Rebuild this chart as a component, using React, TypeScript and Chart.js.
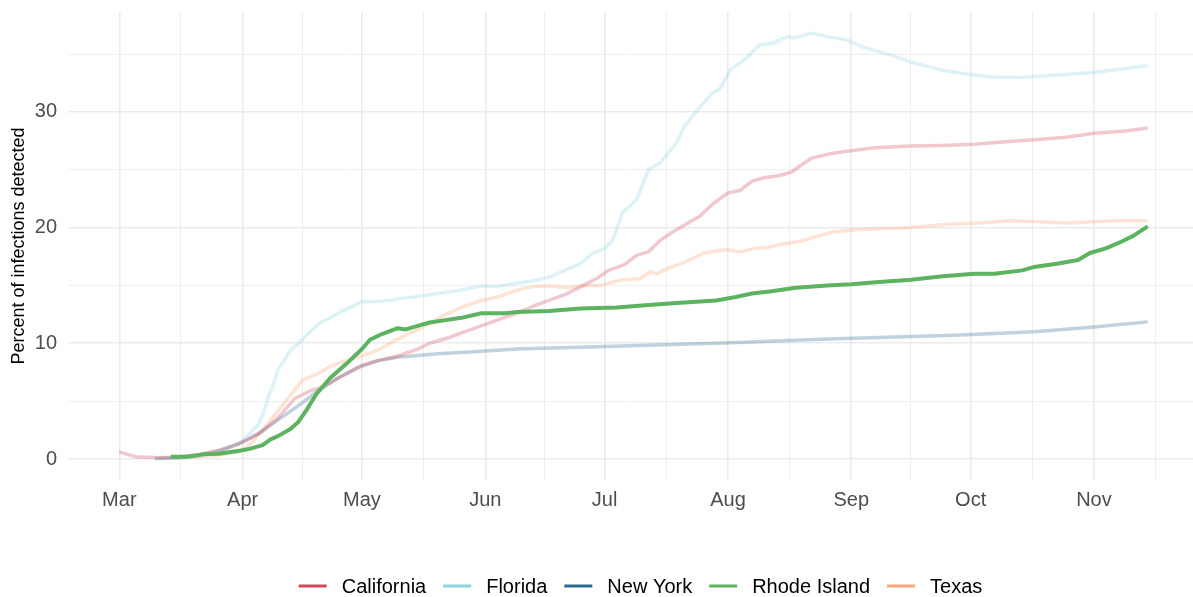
import React, { useEffect, useRef } from "react";
import { Chart, registerables } from "chart.js";

Chart.register(...registerables);

// ---------- data (x = days since 1 March 2020) ----------
const seriesNames = ["California", "Florida", "New York", "Rhode Island", "Texas"];
const seriesColors = ["#D1495B", "#8DD3E3", "#2E6B8E", "#5CB360", "#FFA477"];
const highlightedSeries = "Rhode Island";

const monthTickDays = [0, 31, 61, 92, 122, 153, 184, 214, 245];
const monthTickLabels = ["Mar", "Apr", "May", "Jun", "Jul", "Aug", "Sep", "Oct", "Nov"];
const minorXTickDays = [15.5, 46, 76.5, 107, 137.5, 168.5, 199, 229.5, 260.5];
const yMajorTicks = [0, 10, 20, 30];
const yMinorTicks = [5, 15, 25, 35];

const caDays = [0, 2, 4, 10, 15, 20, 25, 30, 33, 36, 40, 44, 48, 51, 55, 61, 65, 70, 75, 78, 83, 86, 91, 95, 100, 104, 108, 112, 116, 120, 123, 127, 130, 133, 136, 139, 142, 146, 149, 153, 156, 159, 162, 166, 169, 171, 174, 179, 183, 190, 199, 207, 215, 222, 230, 238, 245, 253, 258.5];
const caValues = [0.6, 0.4, 0.2, 0.1, 0.2, 0.4, 0.75, 1.3, 1.8, 2.4, 3.6, 5.2, 5.9, 6.2, 7.0, 8.1, 8.5, 8.9, 9.5, 10.0, 10.5, 10.9, 11.5, 12.0, 12.6, 13.2, 13.7, 14.2, 14.9, 15.6, 16.3, 16.8, 17.6, 17.9, 18.9, 19.6, 20.2, 21.0, 22.0, 23.0, 23.2, 24.0, 24.3, 24.5, 24.8, 25.3, 26.0, 26.4, 26.6, 26.9, 27.05, 27.1, 27.2, 27.4, 27.6, 27.8, 28.15, 28.35, 28.6];

const flDays = [9, 15, 20, 25, 28, 31, 33, 35, 36.5, 37.5, 38.5, 40, 42, 43, 46, 48.5, 51, 53, 55.5, 58, 61, 64, 68, 71, 74, 78, 82, 86, 91, 95, 100, 104, 108, 112, 116, 119, 122, 124, 126.5, 130, 133, 136, 140, 142, 144, 146, 149, 151, 153.5, 157.5, 161, 164, 168, 170, 174, 178, 183, 187, 191, 195, 199, 207, 214, 220, 227, 232, 237, 245, 252, 258.5];
const flValues = [0.05, 0.1, 0.25, 0.6, 1.0, 1.6, 2.3, 3.0, 4.2, 5.5, 6.2, 7.8, 8.8, 9.4, 10.3, 11.2, 11.9, 12.2, 12.7, 13.1, 13.6, 13.6, 13.7, 13.9, 14.0, 14.2, 14.4, 14.6, 14.95, 14.9, 15.2, 15.4, 15.7, 16.3, 16.9, 17.8, 18.2, 18.9, 21.3, 22.4, 25.0, 25.6, 27.3, 28.7, 29.6, 30.4, 31.6, 32.0, 33.6, 34.6, 35.8, 35.9, 36.5, 36.4, 36.8, 36.5, 36.2, 35.6, 35.2, 34.8, 34.3, 33.6, 33.2, 33.0, 33.0, 33.1, 33.2, 33.4, 33.7, 34.0];

const nyDays = [9, 15, 20, 25, 30, 35, 40, 45, 50, 55, 60, 65, 70, 80, 90, 100, 120, 150, 180, 210, 230, 245, 258.5];
const nyValues = [0.05, 0.1, 0.3, 0.7, 1.3, 2.2, 3.4, 4.6, 5.9, 7.0, 7.9, 8.5, 8.8, 9.1, 9.3, 9.5, 9.7, 10.0, 10.4, 10.7, 11.0, 11.4, 11.85];

const riDays = [13, 17, 21, 25, 28, 31, 33, 36, 38, 40, 43, 45, 47, 49.5, 53, 57, 61, 63, 66, 70, 72, 75, 78, 82, 86, 91, 97, 100, 108, 116, 125, 133, 141, 150, 155, 159, 164, 170, 178, 184, 191, 199, 207, 215, 220, 227, 230, 236, 241, 244, 248, 252, 255, 258.5];
const riValues = [0.2, 0.2, 0.4, 0.45, 0.6, 0.75, 0.9, 1.2, 1.7, 2.0, 2.6, 3.2, 4.2, 5.6, 7.0, 8.2, 9.5, 10.3, 10.8, 11.3, 11.2, 11.5, 11.8, 12.0, 12.2, 12.6, 12.6, 12.7, 12.8, 13.0, 13.1, 13.3, 13.5, 13.7, 14.0, 14.3, 14.5, 14.8, 15.0, 15.1, 15.3, 15.5, 15.8, 16.0, 16.0, 16.3, 16.6, 16.9, 17.2, 17.8, 18.2, 18.8, 19.3, 20.1];

const txDays = [10, 15, 20, 25, 30, 33, 36, 40, 43, 46, 50, 53, 57, 61, 65, 69.5, 74, 78, 82, 86, 91, 95, 100, 104, 108, 113, 117, 121, 124, 127, 131, 133.5, 135, 138, 142, 147, 152.5, 156, 160, 163, 167, 171, 175, 179, 184, 191, 199, 209, 216, 224, 231, 238, 245, 251, 258.5];
const txValues = [0.05, 0.1, 0.2, 0.35, 0.6, 1.3, 2.5, 4.2, 5.5, 6.8, 7.4, 8.0, 8.5, 8.9, 9.4, 10.3, 11.0, 11.7, 12.5, 13.1, 13.7, 14.0, 14.6, 14.9, 14.95, 14.8, 15.0, 15.0, 15.3, 15.5, 15.6, 16.2, 16.0, 16.5, 17.0, 17.8, 18.1, 17.9, 18.2, 18.3, 18.6, 18.8, 19.2, 19.6, 19.8, 19.9, 20.0, 20.3, 20.4, 20.6, 20.5, 20.4, 20.5, 20.6, 20.6];

const seriesDays = [caDays, flDays, nyDays, riDays, txDays];
const seriesValues = [caValues, flValues, nyValues, riValues, txValues];

const FONT = '"Liberation Sans", Arial, Helvetica, sans-serif';

function withAlpha(hex: string, a: number): string {
  const n = parseInt(hex.slice(1), 16);
  return `rgba(${(n >> 16) & 255},${(n >> 8) & 255},${n & 255},${a})`;
}

const customLegend = {
  id: "customLegend",
  afterDraw(chart: any) {
    const ctx = chart.ctx as CanvasRenderingContext2D;
    ctx.save();
    ctx.font = `20px ${FONT}`;
    const keyW = 28;
    const gapKeyText = 15;
    const gapItems = 17;
    const widths = seriesNames.map((n) => ctx.measureText(n).width);
    let total = 0;
    widths.forEach((w, i) => {
      total += keyW + gapKeyText + w + (i < widths.length - 1 ? gapItems : 0);
    });
    let x = 640.5 - total / 2;
    const y = 586;
    seriesNames.forEach((name, i) => {
      ctx.strokeStyle = seriesColors[i];
      ctx.lineWidth = 3;
      ctx.beginPath();
      ctx.moveTo(x, y);
      ctx.lineTo(x + keyW, y);
      ctx.stroke();
      x += keyW + gapKeyText;
      ctx.fillStyle = "#000000";
      ctx.textBaseline = "middle";
      ctx.textAlign = "left";
      ctx.fillText(name, x, y + 1);
      x += widths[i] + gapItems;
    });
    ctx.restore();
  },
};

export default function App() {
  const canvasRef = useRef<HTMLCanvasElement | null>(null);

  useEffect(() => {
    if (!canvasRef.current) return;
    const datasets = seriesNames.map((name, i) => {
      const hl = name === highlightedSeries;
      return {
        label: name,
        data: seriesDays[i].map((d, j) => ({ x: d, y: seriesValues[i][j] })),
        borderColor: hl ? seriesColors[i] : withAlpha(seriesColors[i], 0.3),
        backgroundColor: seriesColors[i],
        borderWidth: hl ? 4 : 3.5,
        pointRadius: 0,
        pointHoverRadius: 0,
        tension: 0,
        fill: false,
        borderJoinStyle: "round" as const,
        order: hl ? -1 : i,
      };
    });

    const chart = new Chart(canvasRef.current, {
      type: "line",
      data: { datasets },
      options: {
        animation: false,
        responsive: false,
        maintainAspectRatio: false,
        layout: { padding: { top: 12, left: 0, right: 0, bottom: 0 } },
        plugins: {
          legend: { display: false },
          tooltip: { enabled: false },
        },
        scales: {
          x: {
            type: "linear",
            min: -12.9,
            max: 269.9,
            afterBuildTicks: (s: any) => {
              s.ticks = [...monthTickDays, ...minorXTickDays]
                .sort((a, b) => a - b)
                .map((v) => ({ value: v }));
            },
            afterFit: (s: any) => {
              s.height = 117;
              s.paddingLeft = 0;
              s.paddingRight = 0;
            },
            ticks: {
              autoSkip: false,
              maxRotation: 0,
              color: "#4D4D4D",
              font: { family: FONT, size: 20 },
              padding: 8,
              callback: (v: any) => {
                const idx = monthTickDays.indexOf(Number(v));
                return idx >= 0 ? monthTickLabels[idx] : "";
              },
            },
            grid: {
              color: "#EBEBEB",
              drawTicks: false,
              lineWidth: (c: any) =>
                c.tick && monthTickDays.indexOf(c.tick.value) >= 0 ? 1.6 : 0.8,
            },
            border: { display: false },
          },
          y: {
            type: "linear",
            min: -1.815,
            max: 38.63,
            afterBuildTicks: (s: any) => {
              s.ticks = [...yMajorTicks, ...yMinorTicks]
                .sort((a, b) => a - b)
                .map((v) => ({ value: v }));
            },
            afterFit: (s: any) => {
              s.width = 68;
              s.paddingTop = 0;
              s.paddingBottom = 0;
            },
            ticks: {
              color: "#4D4D4D",
              font: { family: FONT, size: 20 },
              padding: 11,
              callback: (v: any) =>
                yMajorTicks.indexOf(Number(v)) >= 0 ? String(v) : "",
            },
            grid: {
              color: "#EBEBEB",
              drawTicks: false,
              lineWidth: (c: any) =>
                c.tick && yMajorTicks.indexOf(c.tick.value) >= 0 ? 1.6 : 0.8,
            },
            border: { display: false },
            title: {
              display: true,
              text: "Percent of infections detected",
              color: "#000000",
              font: { family: FONT, size: 18 },
              padding: { top: 8, bottom: 0 },
            },
          },
        },
      },
      plugins: [customLegend],
    });
    return () => chart.destroy();
  }, []);

  return (
    <div style={{ position: "absolute", left: 0, top: 0, width: 1193, height: 597, background: "#ffffff" }}>
      <canvas ref={canvasRef} width={1193} height={597} style={{ width: 1193, height: 597, display: "block" }} />
    </div>
  );
}
